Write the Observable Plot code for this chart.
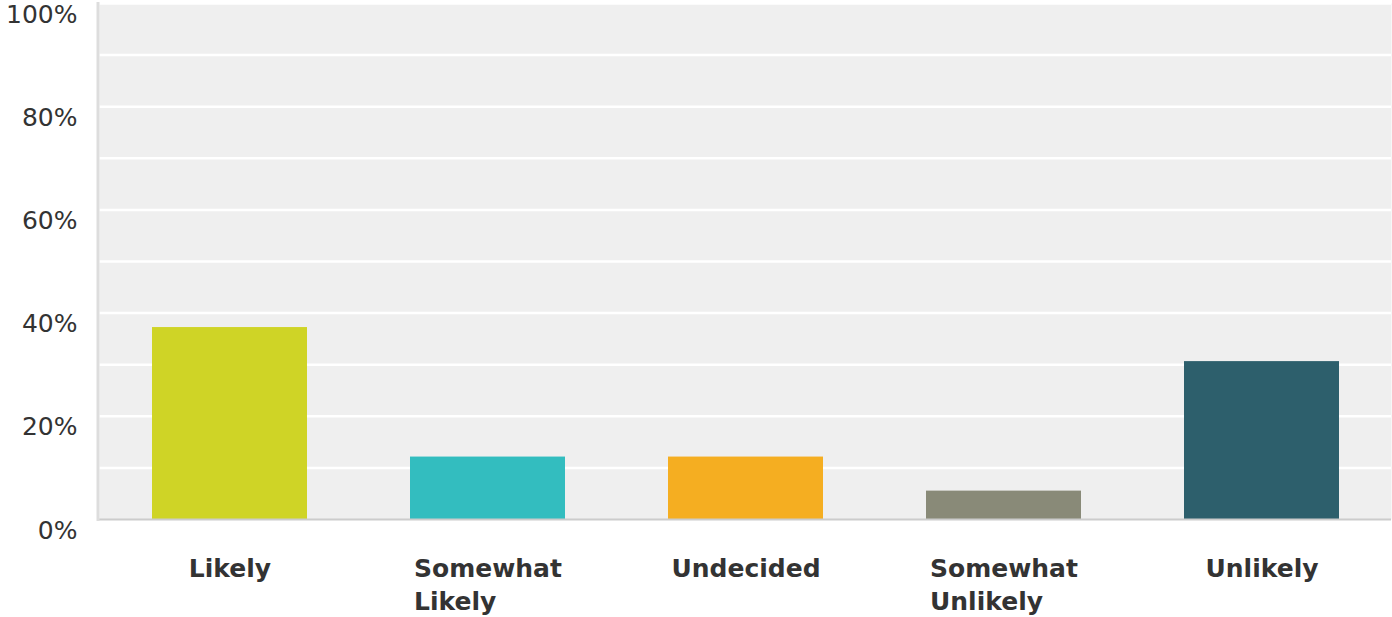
<!DOCTYPE html>
<html>
<head>
<meta charset="utf-8">
<script src="https://cdn.jsdelivr.net/npm/d3@7"></script>
<script src="https://cdn.jsdelivr.net/npm/@observablehq/plot@0.6"></script>
<style>
  html, body { margin: 0; padding: 0; background: #ffffff; }
  #chart { width: 1392px; height: 617px; overflow: hidden; }
</style>
</head>
<body>
<div id="chart"></div>
<script>
const categories = ["Likely", "Somewhat Likely", "Undecided", "Somewhat Unlikely", "Unlikely"];
const values = [37.2, 12.1, 12.1, 5.5, 30.6];
const palette = ["#cfd426", "#33bdbf", "#f5ae21", "#898a78", "#2d5f6c"];
const yTicks = [0, 20, 40, 60, 80, 100];
const gridLines = [10, 20, 30, 40, 50, 60, 70, 80, 90, 100];

const data = categories.map((c, i) => ({category: c, value: values[i]}));

const chart = Plot.plot({
  width: 1392,
  height: 617,
  marginTop: 3,
  marginBottom: 98,
  marginLeft: 99,
  marginRight: 1,
  style: {fontFamily: "'DejaVu Sans', Verdana, sans-serif", color: "#333333", background: "#ffffff"},
  x: {domain: categories, paddingInner: 0.4, paddingOuter: 0.2, label: null},
  y: {domain: [0, 100], label: null},
  color: {domain: categories, range: palette},
  marks: [
    Plot.frame({fill: "#efefef", stroke: null}),
    Plot.ruleY(gridLines, {stroke: "#ffffff", strokeWidth: 2.5}),
    Plot.barY(data, {x: "category", y: "value", fill: "category"}),
    Plot.ruleY([0], {stroke: "#cccccc", strokeWidth: 2}),
    Plot.frame({anchor: "left", stroke: "#dddddd", strokeWidth: 3, dx: -1.5}),
    Plot.axisY(yTicks, {
      tickSize: 0,
      tickPadding: 22,
      tickFormat: d => d + "%",
      fontSize: 25,
      dy: 11,
      fill: "#333333"
    }),
    Plot.axisX({
      tickSize: 0,
      tickPadding: 34,
      tickFormat: d => d.startsWith("Somewhat ") ? d.replace(" ", "\n") : d,
      fontSize: 25,
      fontWeight: "bold",
      lineHeight: 1.32,
      fill: "#333333"
    })
  ]
});

document.getElementById("chart").appendChild(chart);

// Multi-line labels: keep the block centred but align its lines to the left.
chart.querySelectorAll('[aria-label="x-axis tick label"] text').forEach(t => {
  if (t.querySelectorAll("tspan").length > 1) {
    const w = t.getBBox().width;
    t.setAttribute("text-anchor", "start");
    const tr = t.getAttribute("transform") || "";
    t.setAttribute("transform", tr + ` translate(${-w / 2},0)`);
  }
});
</script>
</body>
</html>
